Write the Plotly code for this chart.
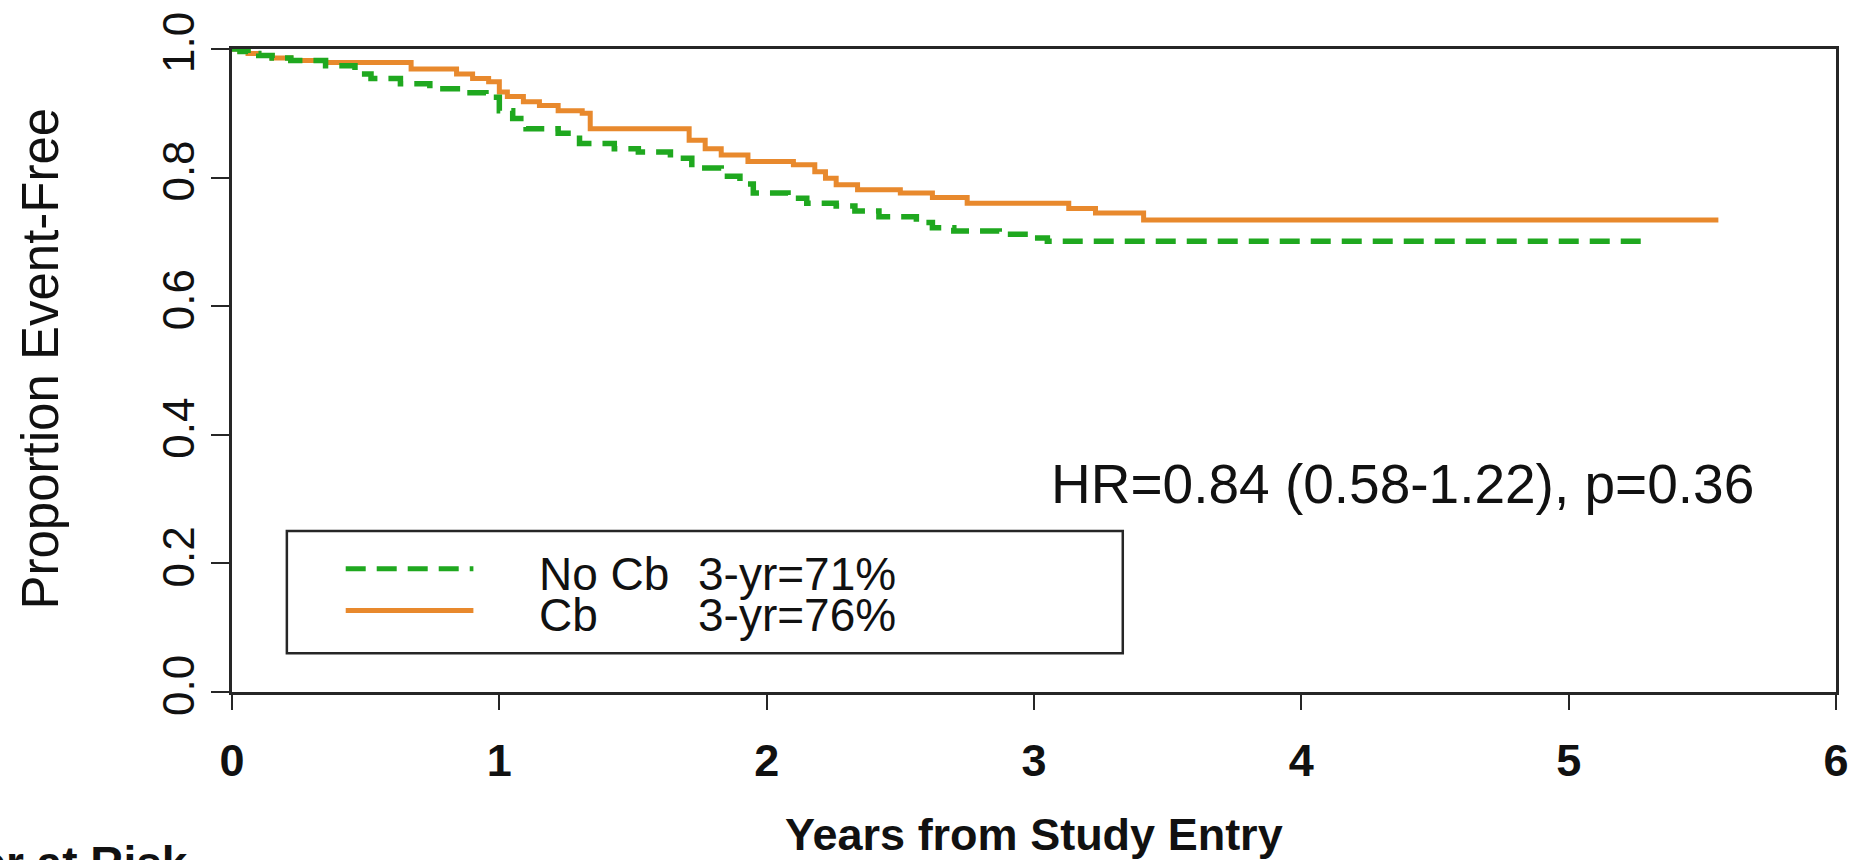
import plotly.graph_objects as go

# Kaplan-Meier step estimates (years from study entry, proportion event-free)
years_nocb = [0, 0.03, 0.06, 0.10, 0.15, 0.22, 0.35, 0.46, 0.52, 0.63, 0.74, 0.88, 0.95,
              1.00, 1.05, 1.10, 1.22, 1.30, 1.43, 1.52, 1.64, 1.72, 1.83, 1.90, 1.95,
              2.08, 2.15, 2.26, 2.33, 2.42, 2.56, 2.62, 2.70, 2.87, 3.00, 3.05, 5.29]
surv_nocb = [1.0, 0.996, 0.993, 0.990, 0.986, 0.982, 0.974, 0.961, 0.954, 0.946, 0.938, 0.932, 0.925,
             0.904, 0.892, 0.876, 0.869, 0.853, 0.845, 0.840, 0.830, 0.815, 0.802, 0.790, 0.776,
             0.768, 0.760, 0.756, 0.748, 0.739, 0.730, 0.722, 0.717, 0.712, 0.706, 0.701, 0.701]

years_cb = [0, 0.03, 0.06, 0.10, 0.15, 0.22, 0.35, 0.67, 0.84, 0.90, 0.96, 1.00, 1.03,
            1.09, 1.15, 1.22, 1.31, 1.34, 1.71, 1.77, 1.83, 1.93, 2.10, 2.18, 2.22,
            2.26, 2.34, 2.50, 2.62, 2.75, 3.13, 3.23, 3.41, 5.56]
surv_cb = [1.0, 0.996, 0.993, 0.990, 0.986, 0.982, 0.979, 0.969, 0.961, 0.954, 0.949, 0.933, 0.926,
           0.918, 0.912, 0.904, 0.900, 0.876, 0.858, 0.845, 0.835, 0.825, 0.820, 0.809, 0.799,
           0.789, 0.781, 0.776, 0.769, 0.760, 0.752, 0.745, 0.734, 0.734]

group_names = ["No Cb", "Cb"]
group_notes = ["3-yr=71%", "3-yr=76%"]
x_ticks = [0, 1, 2, 3, 4, 5, 6]
y_ticks = [0.0, 0.2, 0.4, 0.6, 0.8, 1.0]
y_tick_text = ["0.0", "0.2", "0.4", "0.6", "0.8", "1.0"]
hr_text = "HR=0.84 (0.58-1.22), p=0.36"

GREEN = "#1fa81f"
ORANGE = "#e8892d"
AXIS = "#262626"
INK = "#111111"
FONT = "Liberation Sans, Arial, sans-serif"
DASH = "20px,11px"

W, H = 1861, 860
L, R, T, B = 232, 21, 45, 168
PW, PH = W - L - R, H - T - B


def px(x):
    """Pixel column -> paper x."""
    return (x - L) / PW


def py(y):
    """Pixel row -> paper y."""
    return (H - B - y) / PH


fig = go.Figure()
fig.add_trace(go.Scatter(x=years_cb, y=surv_cb, mode="lines", line_shape="hv",
                         line=dict(color=ORANGE, width=5), name=group_names[1],
                         showlegend=False))
fig.add_trace(go.Scatter(x=years_nocb, y=surv_nocb, mode="lines", line_shape="hv",
                         line=dict(color=GREEN, width=5.5, dash=DASH), name=group_names[0],
                         showlegend=False))

# legend box with line samples
shapes = [
    dict(type="rect", xref="paper", yref="paper", x0=px(287), x1=px(1125), y0=py(653), y1=py(530),
         line=dict(color=AXIS, width=2.5)),
    dict(type="line", xref="paper", yref="paper", x0=px(346), x1=px(474), y0=py(568), y1=py(568),
         line=dict(color=GREEN, width=5, dash=DASH)),
    dict(type="line", xref="paper", yref="paper", x0=px(346), x1=px(474), y0=py(610), y1=py(610),
         line=dict(color=ORANGE, width=5)),
]

annotations = []
for i, (name, note) in enumerate(zip(group_names, group_notes)):
    yc = 573 + 42 * i
    annotations.append(dict(xref="paper", yref="paper", x=px(538), y=py(yc), text=name,
                            xanchor="left", yanchor="middle", showarrow=False,
                            font=dict(family=FONT, size=46, color=INK)))
    annotations.append(dict(xref="paper", yref="paper", x=px(697), y=py(yc), text=note,
                            xanchor="left", yanchor="middle", showarrow=False,
                            font=dict(family=FONT, size=46, color=INK)))

annotations.append(dict(xref="paper", yref="paper", x=px(1405), y=py(483), text=hr_text,
                        xanchor="center", yanchor="middle", showarrow=False,
                        font=dict(family=FONT, size=55, color=INK)))

# axis titles
annotations.append(dict(xref="paper", yref="paper", x=px(40), y=py(356),
                        text="Proportion Event-Free", textangle=-90,
                        xanchor="center", yanchor="middle", showarrow=False,
                        font=dict(family=FONT, size=51, color=INK)))
annotations.append(dict(xref="paper", yref="paper", x=0.5, y=py(808),
                        text="Years from Study Entry",
                        xanchor="center", yanchor="top", showarrow=False,
                        font=dict(family=FONT, size=45, color=INK, weight="bold")))
annotations.append(dict(xref="paper", yref="paper", x=px(190), y=py(836),
                        text="Number at Risk",
                        xanchor="right", yanchor="top", showarrow=False,
                        font=dict(family=FONT, size=46, color=INK, weight="bold")))

fig.update_layout(
    width=W, height=H,
    margin=dict(l=L, r=R, t=T, b=B, pad=0),
    paper_bgcolor="white", plot_bgcolor="white",
    shapes=shapes, annotations=annotations,
    showlegend=False,
)

fig.update_xaxes(
    range=[0, 6], tickvals=x_ticks, ticktext=[str(v) for v in x_ticks],
    ticks="outside", ticklen=15, tickwidth=2, tickcolor=AXIS,
    showline=True, linewidth=2.5, linecolor=AXIS, mirror=True,
    showgrid=False, zeroline=False, ticklabelstandoff=12,
    tickfont=dict(family=FONT, size=45, color=INK, weight="bold"),
)
fig.update_yaxes(
    range=[0, 1], tickvals=y_ticks, ticktext=y_tick_text, tickangle=-90,
    ticks="outside", ticklen=18, tickwidth=2, tickcolor=AXIS,
    showline=True, linewidth=2.5, linecolor=AXIS, mirror=True,
    showgrid=False, zeroline=False, ticklabelstandoff=0,
    tickfont=dict(family=FONT, size=44, color=INK),
)

fig.write_html("out.html")
